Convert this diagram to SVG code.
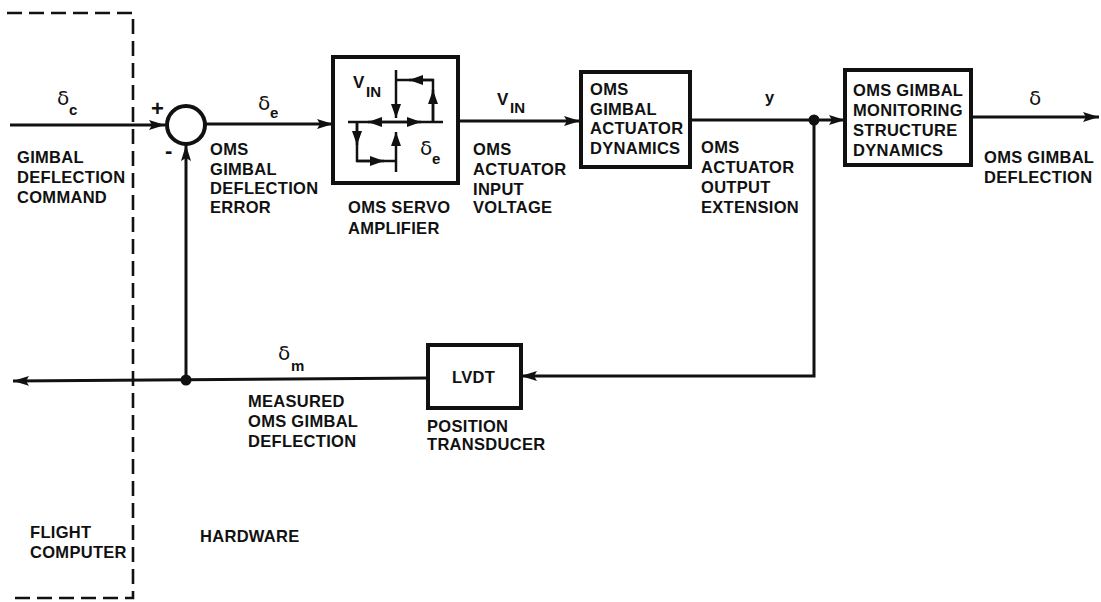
<svg xmlns="http://www.w3.org/2000/svg" width="1101" height="602" viewBox="0 0 1101 602">
<style>
text{font-family:"Liberation Sans",Arial,sans-serif;font-weight:700;font-size:16.5px;letter-spacing:.3px;fill:#111}
.sym{font-size:20px;font-weight:400;font-family:"DejaVu Sans",sans-serif;letter-spacing:0}
.v{font-size:17px;letter-spacing:0}
.sub{font-size:15px;letter-spacing:0}
.box{fill:none;stroke:#111;stroke-width:4}
.ln{fill:none;stroke:#111;stroke-width:3}
.thin{fill:none;stroke:#111;stroke-width:2.5}
.dash{fill:none;stroke:#111;stroke-width:2.6;stroke-dasharray:15 7}
</style>
<defs>
<marker id="a" markerUnits="userSpaceOnUse" viewBox="0 0 16 12" refX="16" refY="6" markerWidth="16" markerHeight="12" orient="auto"><path d="M0 1L16 6L0 11L3 6Z" fill="#111"/></marker>
<marker id="b" markerUnits="userSpaceOnUse" viewBox="0 0 14 10" refX="14" refY="5" markerWidth="14" markerHeight="10" orient="auto"><path d="M0 0L14 5L0 10Z" fill="#111"/></marker>
</defs>
<rect width="1101" height="602" fill="#fff"/>
<g id="boundary"><path class="dash" d="M7 13H133V598H10"/></g>
<g id="connectors">
<path class="ln" d="M10 125H165" marker-end="url(#a)"/>
<path class="ln" d="M206 124H333" marker-end="url(#a)"/>
<path class="ln" d="M458 121H580" marker-end="url(#a)"/>
<path class="ln" d="M690 120H845" marker-end="url(#a)"/>
<path class="ln" d="M971 117H1099" marker-end="url(#a)"/>
<path class="ln" d="M814 120V376H521" marker-end="url(#a)"/>
<path class="ln" d="M428 378L13 381" marker-end="url(#a)"/>
<path class="ln" d="M186 380V145" marker-end="url(#a)"/>
<circle cx="814" cy="120" r="5.5" fill="#111"/>
<circle cx="186" cy="380" r="5.5" fill="#111"/>
</g>
<g id="sum"><circle class="box" cx="186" cy="125" r="19"/>
<text x="151" y="116" style="font-size:22px">+</text><text x="165" y="158" style="font-size:22px">-</text></g>
<g id="servo">
<rect class="box" x="333" y="57" width="125" height="126"/>
<path class="thin" d="M348 122H443"/>
<path class="thin" d="M396 122H368" marker-end="url(#b)"/>
<path class="thin" d="M396 122H421" marker-end="url(#b)"/>
<path class="thin" d="M396 70V118" marker-end="url(#b)"/>
<path class="thin" d="M396 172V132" marker-end="url(#b)"/>
<path class="thin" d="M396 80H433V122"/>
<path class="thin" d="M433 80H409" marker-end="url(#b)"/>
<path class="thin" d="M433 122V90" marker-end="url(#b)"/>
<path class="thin" d="M357 122V161H396"/>
<path class="thin" d="M357 122V145" marker-end="url(#b)"/>
<path class="thin" d="M357 161H384" marker-end="url(#b)"/>
<text class="v" x="353" y="88">V</text><text class="sub" x="366" y="97">IN</text>
<text class="sym" x="420" y="155">δ</text><text class="sub" x="432" y="164">e</text>
<text x="348" y="213">OMS SERVO</text><text x="348" y="234">AMPLIFIER</text>
</g>
<g id="actuator">
<rect class="box" x="581" y="72" width="109" height="95"/>
<text x="590" y="95">OMS</text><text x="590" y="115">GIMBAL</text><text x="590" y="134">ACTUATOR</text><text x="590" y="154">DYNAMICS</text>
</g>
<g id="structure">
<rect class="box" x="845" y="70" width="126" height="95"/>
<text x="853" y="96">OMS GIMBAL</text><text x="853" y="116">MONITORING</text><text x="853" y="136">STRUCTURE</text><text x="853" y="156">DYNAMICS</text>
</g>
<g id="lvdt">
<rect class="box" x="428" y="345" width="93" height="63"/>
<text x="452" y="383">LVDT</text>
<text x="427" y="432">POSITION</text><text x="427" y="450">TRANSDUCER</text>
</g>
<g id="labels">
<text class="sym" x="57" y="105">δ</text><text class="sub" x="69" y="115">c</text>
<text class="sym" x="258" y="110">δ</text><text class="sub" x="270" y="118">e</text>
<text class="v" x="497" y="105">V</text><text class="sub" x="510" y="113">IN</text>
<text x="765" y="103">y</text>
<text class="sym" x="1029" y="105">δ</text>
<text class="sym" x="278" y="360">δ</text><text class="sub" x="291" y="371">m</text>
<text x="17" y="163">GIMBAL</text><text x="17" y="183">DEFLECTION</text><text x="17" y="203">COMMAND</text>
<text x="210" y="155">OMS</text><text x="210" y="175">GIMBAL</text><text x="210" y="194">DEFLECTION</text><text x="210" y="213">ERROR</text>
<text x="473" y="155">OMS</text><text x="473" y="175">ACTUATOR</text><text x="473" y="195">INPUT</text><text x="473" y="213">VOLTAGE</text>
<text x="701" y="153">OMS</text><text x="701" y="173">ACTUATOR</text><text x="701" y="193">OUTPUT</text><text x="701" y="213">EXTENSION</text>
<text x="984" y="163">OMS GIMBAL</text><text x="984" y="183">DEFLECTION</text>
<text x="248" y="407">MEASURED</text><text x="248" y="427">OMS GIMBAL</text><text x="248" y="447">DEFLECTION</text>
<text x="30" y="538">FLIGHT</text><text x="30" y="558">COMPUTER</text>
<text x="200" y="542">HARDWARE</text>
</g>
</svg>
